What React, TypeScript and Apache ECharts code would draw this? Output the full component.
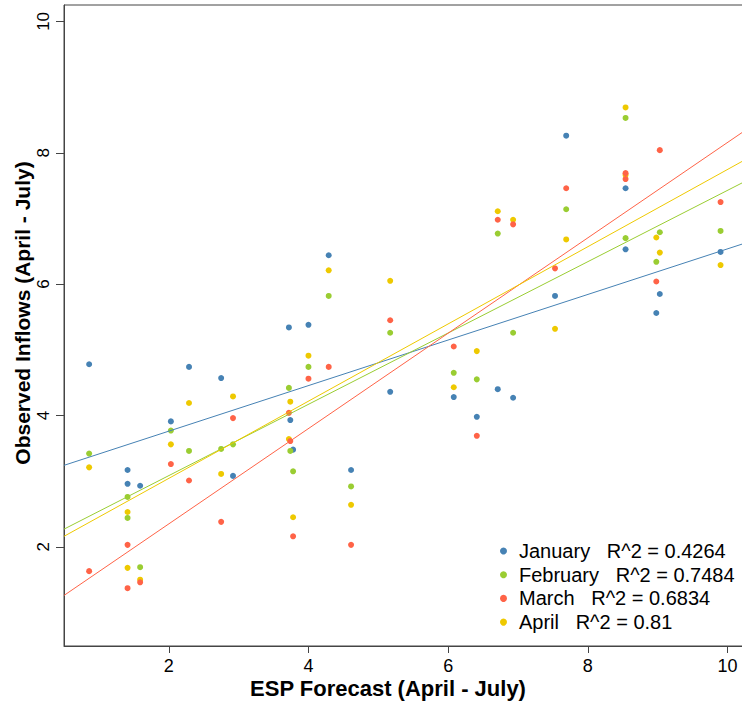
import React, { useEffect, useRef } from "react";
import * as echarts from "echarts";

const months = ["January", "February", "March", "April"];
const r2Values = ["0.4264", "0.7484", "0.6834", "0.81"];
const monthColors = ["#4682B4", "#9ACD32", "#FF6347", "#EEC900"];

const janPoints = [
  [0.86, 4.78], [1.41, 3.17], [1.41, 2.96], [1.59, 2.93], [2.03, 3.91], [2.29, 4.74],
  [2.75, 4.57], [2.92, 3.08], [3.72, 5.34], [3.74, 3.93], [3.78, 3.48], [4.0, 5.38],
  [4.29, 6.44], [4.61, 3.17], [5.17, 4.36], [6.08, 4.28], [6.41, 3.98], [6.71, 4.4],
  [6.93, 4.27], [7.53, 5.82], [7.69, 8.26], [8.54, 7.46], [8.54, 6.53], [8.98, 5.56],
  [9.03, 5.85], [9.9, 6.49],
];
const febPoints = [
  [0.86, 3.42], [1.41, 2.76], [1.41, 2.44], [1.59, 1.69], [2.03, 3.77], [2.29, 3.46],
  [2.75, 3.49], [2.92, 3.56], [3.72, 4.42], [3.74, 3.46], [3.78, 3.15], [4.0, 4.74],
  [4.29, 5.82], [4.61, 2.92], [5.17, 5.26], [6.08, 4.65], [6.41, 4.55], [6.71, 6.77],
  [6.93, 5.26], [7.69, 7.14], [8.54, 8.53], [8.54, 6.7], [8.98, 6.34], [9.03, 6.79],
  [9.9, 6.81],
];
const marPoints = [
  [0.86, 1.63], [1.41, 2.03], [1.41, 1.37], [1.59, 1.46], [2.03, 3.26], [2.29, 3.01],
  [2.75, 2.38], [2.92, 3.96], [3.72, 4.04], [3.74, 3.61], [3.78, 2.16], [4.0, 4.56],
  [4.29, 4.74], [4.61, 2.03], [5.17, 5.45], [6.08, 5.05], [6.41, 3.69], [6.71, 6.98],
  [6.93, 6.91], [7.53, 6.24], [7.69, 7.46], [8.54, 7.69], [8.54, 7.6], [8.98, 6.04],
  [9.03, 8.04], [9.9, 7.25],
];
const aprPoints = [
  [0.86, 3.21], [1.41, 2.53], [1.41, 1.68], [1.59, 1.5], [2.03, 3.56], [2.29, 4.19],
  [2.75, 3.11], [2.92, 4.29], [3.74, 4.21], [3.72, 3.64], [3.78, 2.45], [4.0, 4.91],
  [4.29, 6.21], [4.61, 2.64], [5.17, 6.05], [6.08, 4.43], [6.41, 4.98], [6.71, 7.11],
  [6.93, 6.98], [7.53, 5.32], [7.69, 6.68], [8.54, 8.69], [8.54, 7.66], [8.98, 6.71],
  [9.03, 6.48], [9.9, 6.29],
];
const fitIntercepts = [3.067, 1.998, 0.897, 1.866];
const fitSlopes = [0.347, 0.543, 0.726, 0.588];

const xTicks = [2, 4, 6, 8, 10];
const yTicks = [2, 4, 6, 8, 10];
const xRange = [0.5, 10.25];
const yRange = [0.49, 10.25];

const xTitle = "ESP Forecast (April - July)";
const yTitle = "Observed Inflows (April - July)";

const FONT = "'Liberation Sans', Arial, Helvetica, sans-serif";

export default function App() {
  const ref = useRef<HTMLDivElement>(null);
  useEffect(() => {
    if (!ref.current) return;
    const chart = echarts.init(ref.current, null, { renderer: "svg" });
    const pointSets = [janPoints, febPoints, marPoints, aprPoints];
    // drawing order of the points: Jan, Feb, Apr, Mar
    const drawOrder = [0, 1, 3, 2];
    const scatterSeries = drawOrder.map((i) => ({
      type: "scatter",
      name: months[i],
      data: pointSets[i],
      symbol: "circle",
      symbolSize: 6,
      itemStyle: { color: monthColors[i], opacity: 1 },
      z: 2,
    }));
    const lineSeries = months.map((m, i) => ({
      type: "line",
      name: m + " fit",
      data: xRange.map((x) => [x, fitIntercepts[i] + fitSlopes[i] * x]),
      symbol: "none",
      lineStyle: { color: monthColors[i], width: 1 },
      z: 3,
      silent: true,
    }));
    chart.setOption({
      animation: false,
      backgroundColor: "#ffffff",
      grid: {
        left: 64,
        top: 5,
        right: -3,
        bottom: 56,
        show: true,
        borderColor: "#444",
        borderWidth: 1,
        outerBoundsMode: "none",
        containLabel: false,
      },
      xAxis: {
        type: "value",
        min: xRange[0],
        max: xRange[1],
        splitLine: { show: false },
        axisLine: { show: true, lineStyle: { color: "#444", width: 1 } },
        axisTick: {
          show: true,
          length: 7,
          customValues: xTicks,
          lineStyle: { color: "#444" },
        },
        axisLabel: {
          customValues: xTicks,
          margin: 11,
          fontSize: 18,
          fontFamily: FONT,
          color: "#000",
        },
      },
      yAxis: {
        type: "value",
        min: yRange[0],
        max: yRange[1],
        splitLine: { show: false },
        axisLine: { show: true, lineStyle: { color: "#444", width: 1 } },
        axisTick: {
          show: true,
          length: 8,
          customValues: yTicks,
          lineStyle: { color: "#444" },
        },
        axisLabel: {
          customValues: yTicks,
          rotate: 90,
          margin: 12,
          fontSize: 17,
          fontFamily: FONT,
          color: "#000",
        },
      },
      legend: {
        data: months,
        orient: "vertical",
        left: 495,
        top: 536,
        icon: "circle",
        itemWidth: 7,
        itemHeight: 7,
        itemGap: 3.7,
        formatter: (name: string) => `${name}   R^2 = ${r2Values[months.indexOf(name)]}`,
        textStyle: {
          fontSize: 20,
          lineHeight: 20,
          fontFamily: FONT,
          color: "#000",
          padding: [0, 0, 0, 7],
        },
      },
      graphic: [
        {
          type: "text",
          x: 388,
          y: 688,
          style: {
            text: xTitle,
            fontSize: 22,
            fontWeight: "bold",
            fontFamily: FONT,
            fill: "#000",
            align: "center",
            verticalAlign: "middle",
          },
        },
        {
          type: "text",
          x: 22,
          y: 313,
          rotation: Math.PI / 2,
          style: {
            text: yTitle,
            fontSize: 21,
            fontWeight: "bold",
            fontFamily: FONT,
            fill: "#000",
            align: "center",
            verticalAlign: "middle",
          },
        },
      ],
      series: [...scatterSeries, ...lineSeries],
    });
    return () => chart.dispose();
  }, []);
  return (
    <div
      ref={ref}
      style={{ position: "fixed", left: 0, top: 0, width: 742, height: 702, background: "#fff" }}
    />
  );
}
